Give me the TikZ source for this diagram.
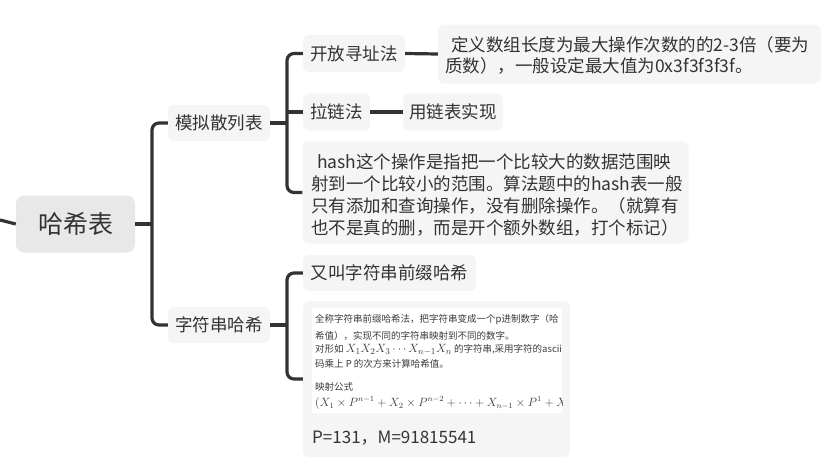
\documentclass[tikz,border=0pt]{standalone}
\usepackage{fontspec}
\setmainfont{Noto Sans CJK SC}
\definecolor{ink}{HTML}{333333}
\definecolor{boxg}{HTML}{F5F5F5}
\definecolor{rootg}{HTML}{E8E8E8}
\definecolor{smallink}{HTML}{3C3C3C}
\tikzset{
  conn/.style={draw=ink, line width=3.2pt, rounded corners=7pt},
  topic/.style={fill=boxg, rounded corners=6pt, inner sep=0pt, text=ink,
    font=\fontsize{17.5}{21}\selectfont},
  rootbox/.style={fill=rootg, rounded corners=8pt, inner sep=0pt, text=ink,
    font=\fontsize{25}{30}\selectfont},
  bodytext/.style={inner sep=0pt, text=ink, align=left, anchor=west,
    font=\fontsize{17.5}{21.7}\selectfont},
  smalltext/.style={inner sep=0pt, text=smallink, anchor=west,
    font=\fontsize{9.5}{11}\selectfont},
}
\begin{document}
\begin{tikzpicture}[x=1pt,y=-1pt]
\useasboundingbox (0,0) rectangle (825,471);
% nodes
\node[rootbox, minimum width=119pt, minimum height=57pt] (root) at (75.5,224) {哈希表};
\node[topic, minimum width=102pt, minimum height=36pt] (mn) at (219,123) {模拟散列表};
\node[topic, minimum width=102pt, minimum height=36pt] (zf) at (219,325) {字符串哈希};
\node[topic, minimum width=102pt, minimum height=37pt] (kf) at (354,53.5) {开放寻址法};
\node[topic, minimum width=67pt, minimum height=37pt] (ll) at (336.5,112) {拉链法};
\node[topic, minimum width=100pt, minimum height=37pt] (yl) at (453,112) {用链表实现};
\node[topic, minimum width=383pt, minimum height=59pt] (ds) at (629.5,54) {};
\node[bodytext, font=\fontsize{17.5}{21}\selectfont] (dst) at (445,55) {\hspace{6pt}定义数组长度为最大操作次数的的2-3倍（要为\\质数），一般设定最大值为0x3f3f3f3f。};
\node[topic, minimum width=386pt, minimum height=102pt] (hs) at (495.5,192.5) {};
\node[bodytext] (hst) at (311,195) {\hspace{6pt}hash这个操作是指把一个比较大的数据范围映\\射到一个比较小的范围。算法题中的hash表一般\\只有添加和查询操作，没有删除操作。（就算有\\也不是真的删，而是开个额外数组，打个标记）};
\node[topic, minimum width=173pt, minimum height=36pt] (yj) at (389.5,273) {又叫字符串前缀哈希};
\node[topic, minimum width=267pt, minimum height=156pt] (bg) at (436.5,379) {};
\node[fill=white, inner sep=0pt, minimum width=250pt, minimum height=105pt] (img) at (437,360.5) {};
\begin{scope}
\clip (img.south west) rectangle (img.north east);
\node[smalltext] (s1) at (315,320) {全称字符串前缀哈希法，把字符串变成一个p进制数字（哈};
\node[smalltext] (s2) at (315,336) {希值），实现不同的字符串映射到不同的数字。};
\node[smalltext] (s3) at (315,349.5) {对形如 {\fontsize{12.5}{14}\selectfont$X_1X_2X_3\cdots X_{n-1}X_n$} 的字符串,采用字符的ascii};
\node[smalltext] (s4) at (315,364) {码乘上 P 的次方来计算哈希值。};
\node[smalltext] (s5) at (315,387) {映射公式};
\node[smalltext] (s6) at (315,403) {\fontsize{11.8}{14}\selectfont$(X_1\times P^{n-1}+X_2\times P^{n-2}+\cdots+X_{n-1}\times P^1+X_n\times P^0)$};
\end{scope}
\node[inner sep=0pt, anchor=west, text=ink, font=\fontsize{17}{20}\selectfont] (pm) at (312,438) {P=131，M=91815541};
% connector junctions
\coordinate (j0) at (152,224);
\coordinate (j1) at (287,123);
\coordinate (j2) at (287,325);
\coordinate (ledge) at (0,220);
% connectors
\draw[conn] (ledge) .. controls (8,222) .. (root.west);
\draw[conn] (root.east) -- (j0);
\draw[conn] (mn.west) -| (j0) |- (zf.west);
\draw[conn] (mn.east) -- (j1);
\draw[conn] (kf.west) -| (j1) |- (hs.west);
\draw[conn] (ll.west -| j1) -- (ll.west);
\draw[conn] (kf.east) -- (ds.west);
\draw[conn] (ll.east) -- (yl.west);
\draw[conn] (zf.east) -- (j2);
\draw[conn] (yj.west) -| (j2) |- (bg.west);
\end{tikzpicture}
\end{document}
